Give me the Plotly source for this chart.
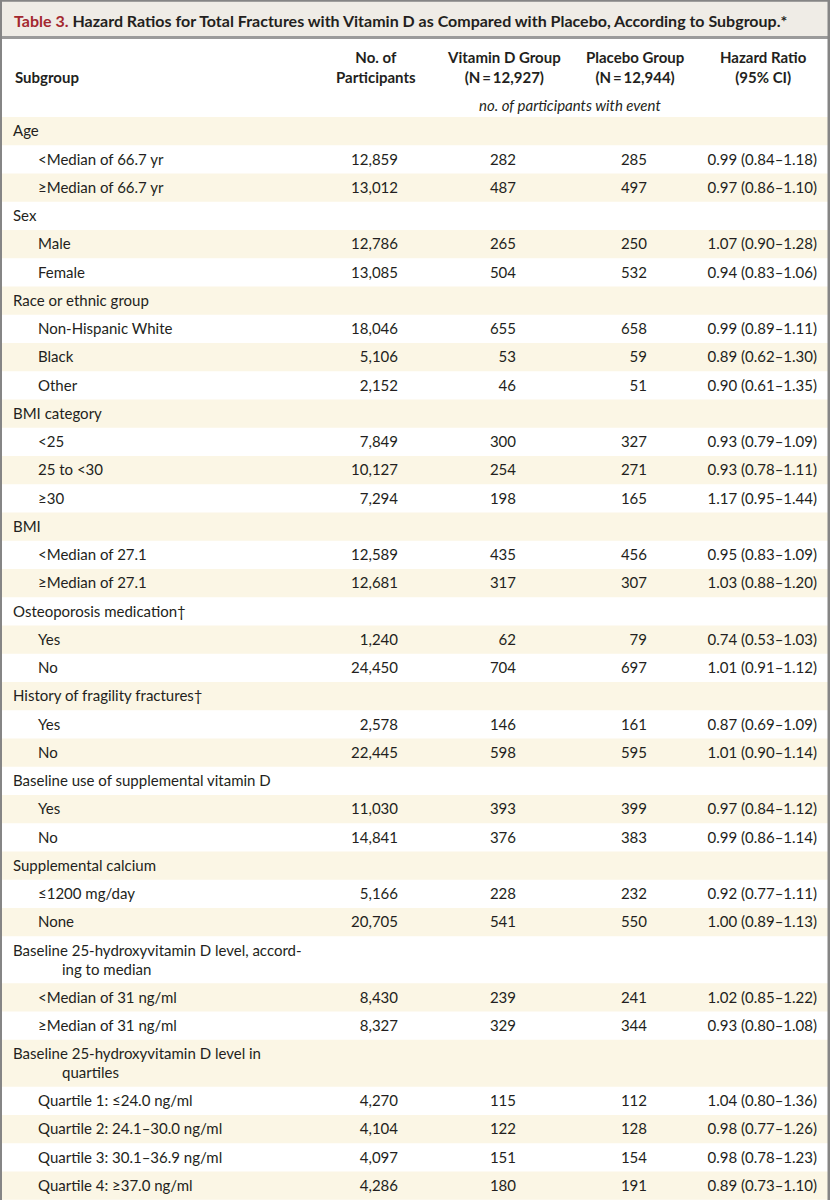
import plotly.graph_objects as go

# ---------------- data ----------------
title_prefix = "Table 3."
title_rest = "Hazard Ratios for Total Fractures with Vitamin D as Compared with Placebo, According to Subgroup.*"

col_headers = ["Subgroup", "No. of<br>Participants", "Vitamin D Group<br>(N\u2009=\u200912,927)",
               "Placebo Group<br>(N\u2009=\u200912,944)", "Hazard Ratio<br>(95% CI)"]
events_note = "no. of participants with event"

subgroups = [
    "Age", "<Median of 66.7 yr", "\u2265Median of 66.7 yr",
    "Sex", "Male", "Female",
    "Race or ethnic group", "Non-Hispanic White", "Black", "Other",
    "BMI category", "<25", "25 to <30", "\u226530",
    "BMI", "<Median of 27.1", "\u2265Median of 27.1",
    "Osteoporosis medication\u2020", "Yes", "No",
    "History of fragility fractures\u2020", "Yes", "No",
    "Baseline use of supplemental vitamin D", "Yes", "No",
    "Supplemental calcium", "\u22641200 mg/day", "None",
    "Baseline 25-hydroxyvitamin D level, accord-<br>ing to median",
    "<Median of 31 ng/ml", "\u2265Median of 31 ng/ml",
    "Baseline 25-hydroxyvitamin D level in<br>quartiles",
    "Quartile 1: \u226424.0 ng/ml", "Quartile 2: 24.1\u201330.0 ng/ml",
    "Quartile 3: 30.1\u201336.9 ng/ml", "Quartile 4: \u226537.0 ng/ml",
]
is_group = [
    1, 0, 0,
    1, 0, 0,
    1, 0, 0, 0,
    1, 0, 0, 0,
    1, 0, 0,
    1, 0, 0,
    1, 0, 0,
    1, 0, 0,
    1, 0, 0,
    1, 0, 0,
    1, 0, 0, 0, 0,
]
n_participants = [
    None, 12859, 13012,
    None, 12786, 13085,
    None, 18046, 5106, 2152,
    None, 7849, 10127, 7294,
    None, 12589, 12681,
    None, 1240, 24450,
    None, 2578, 22445,
    None, 11030, 14841,
    None, 5166, 20705,
    None, 8430, 8327,
    None, 4270, 4104, 4097, 4286,
]
vitd_events = [
    None, 282, 487,
    None, 265, 504,
    None, 655, 53, 46,
    None, 300, 254, 198,
    None, 435, 317,
    None, 62, 704,
    None, 146, 598,
    None, 393, 376,
    None, 228, 541,
    None, 239, 329,
    None, 115, 122, 151, 180,
]
placebo_events = [
    None, 285, 497,
    None, 250, 532,
    None, 658, 59, 51,
    None, 327, 271, 165,
    None, 456, 307,
    None, 79, 697,
    None, 161, 595,
    None, 399, 383,
    None, 232, 550,
    None, 241, 344,
    None, 112, 128, 154, 191,
]
hazard_ratio = [
    None, 0.99, 0.97,
    None, 1.07, 0.94,
    None, 0.99, 0.89, 0.90,
    None, 0.93, 0.93, 1.17,
    None, 0.95, 1.03,
    None, 0.74, 1.01,
    None, 0.87, 1.01,
    None, 0.97, 0.99,
    None, 0.92, 1.00,
    None, 1.02, 0.93,
    None, 1.04, 0.98, 0.98, 0.89,
]
ci_low = [
    None, 0.84, 0.86,
    None, 0.90, 0.83,
    None, 0.89, 0.62, 0.61,
    None, 0.79, 0.78, 0.95,
    None, 0.83, 0.88,
    None, 0.53, 0.91,
    None, 0.69, 0.90,
    None, 0.84, 0.86,
    None, 0.77, 0.89,
    None, 0.85, 0.80,
    None, 0.80, 0.77, 0.78, 0.73,
]
ci_high = [
    None, 1.18, 1.10,
    None, 1.28, 1.06,
    None, 1.11, 1.30, 1.35,
    None, 1.09, 1.11, 1.44,
    None, 1.09, 1.20,
    None, 1.03, 1.12,
    None, 1.09, 1.14,
    None, 1.12, 1.14,
    None, 1.11, 1.13,
    None, 1.22, 1.08,
    None, 1.36, 1.26, 1.23, 1.10,
]

# ---------------- style ----------------
W, H = 830, 1200
FONT = "Lato"
FS = 15
FS_TITLE = 16
TXT = "#231f20"
CREAM = "#fbf6e5"
TITLE_BG = "#efece6"
BORDER = "#858585"
RED = "#a3282f"
HEADER_BOTTOM = 117
ROW_H = 28.25
ROW_H2 = 47.0
TEXT_DY = 1.5
X_GROUP = 13
X_ITEM = 38
X_CONT = 62
X_N, X_VD, X_PL, X_HR = 398, 516, 647, 817

# ---------------- layout of rows ----------------
tops, heights = [], []
y = HEADER_BOTTOM
for lab in subgroups:
    h = ROW_H2 if "<br>" in lab else ROW_H
    tops.append(y)
    heights.append(h)
    y += h
centers = [t + h / 2 + TEXT_DY for t, h in zip(tops, heights)]

shapes = []
# alternating row bands
for i, (t, h) in enumerate(zip(tops, heights)):
    if i % 2 == 0:
        shapes.append(dict(type="rect", xref="x", yref="y", x0=0, x1=W, y0=t, y1=t + h,
                           fillcolor=CREAM, line=dict(width=0), layer="below"))
# title band
shapes.append(dict(type="rect", xref="x", yref="y", x0=0, x1=W, y0=0, y1=36,
                   fillcolor=TITLE_BG, line=dict(width=0), layer="below"))
# thick rule under title
shapes.append(dict(type="rect", xref="x", yref="y", x0=0, x1=W, y0=36, y1=39,
                   fillcolor="#9b9b9b", line=dict(width=0), layer="above"))
# frame
shapes.append(dict(type="rect", xref="x", yref="y", x0=0, x1=W, y0=0, y1=1.8,
                   fillcolor=BORDER, line=dict(width=0), layer="above"))
shapes.append(dict(type="rect", xref="x", yref="y", x0=0, x1=2, y0=0, y1=H,
                   fillcolor=BORDER, line=dict(width=0), layer="above"))
shapes.append(dict(type="rect", xref="x", yref="y", x0=827.5, x1=W, y0=0, y1=H,
                   fillcolor=BORDER, line=dict(width=0), layer="above"))

fig = go.Figure()

# subgroup labels
gx, gy, gt = [], [], []
for lab, grp, c in zip(subgroups, is_group, centers):
    if "<br>" in lab:
        first, second = lab.split("<br>")
        gx += [X_GROUP, X_CONT]
        gy += [c - 9.5, c + 9.5]
        gt += [first, second]
    else:
        gx.append(X_GROUP if grp else X_ITEM)
        gy.append(c)
        gt.append(lab)
fig.add_trace(go.Scatter(x=gx, y=gy, text=gt, mode="text", textposition="middle right",
                         textfont=dict(family=FONT, size=FS, color=TXT),
                         hoverinfo="skip", showlegend=False, cliponaxis=False))


def fmt_int(v):
    return "" if v is None else f"{v:,}"


cols = [
    (X_N, [fmt_int(v) for v in n_participants]),
    (X_VD, [fmt_int(v) for v in vitd_events]),
    (X_PL, [fmt_int(v) for v in placebo_events]),
    (X_HR, ["" if h is None else f"{h:.2f} ({l:.2f}\u2013{u:.2f})"
            for h, l, u in zip(hazard_ratio, ci_low, ci_high)]),
]
for xr, texts in cols:
    fig.add_trace(go.Scatter(x=[xr] * len(texts), y=centers, text=texts, mode="text",
                             textposition="middle left",
                             textfont=dict(family=FONT, size=FS, color=TXT),
                             hoverinfo="skip", showlegend=False, cliponaxis=False))

annotations = [
    dict(x=12, y=20, xref="x", yref="y", xanchor="left", yanchor="middle", showarrow=False,
         text=f"<b><span style='color:{RED}'>{title_prefix}</span> {title_rest}</b>",
         font=dict(family=FONT, size=FS_TITLE, color=TXT)),
    dict(x=X_GROUP, y=77, xref="x", yref="y", xanchor="left", yanchor="middle", showarrow=False,
         text=f"<b>{col_headers[0]}</b>", font=dict(family=FONT, size=FS, color=TXT)),
    dict(x=570, y=105, xref="x", yref="y", xanchor="center", yanchor="middle", showarrow=False,
         text=f"<i>{events_note}</i>", font=dict(family=FONT, size=FS, color=TXT)),
]
for cx, txt in zip([376, 504, 635, 763], col_headers[1:]):
    annotations.append(dict(x=cx, y=67, xref="x", yref="y", xanchor="center", yanchor="middle",
                            showarrow=False, align="center", text=f"<b>{txt}</b>",
                            font=dict(family=FONT, size=FS, color=TXT)))

fig.update_layout(
    width=W, height=H, margin=dict(l=0, r=0, t=0, b=0),
    paper_bgcolor="white", plot_bgcolor="white",
    xaxis=dict(range=[0, W], visible=False, fixedrange=True),
    yaxis=dict(range=[H, 0], visible=False, fixedrange=True),
    shapes=shapes, annotations=annotations,
)

fig.write_html("out.html", config={"displayModeBar": False},
               post_script="document.body.style.margin='0px';document.body.style.padding='0px';")
